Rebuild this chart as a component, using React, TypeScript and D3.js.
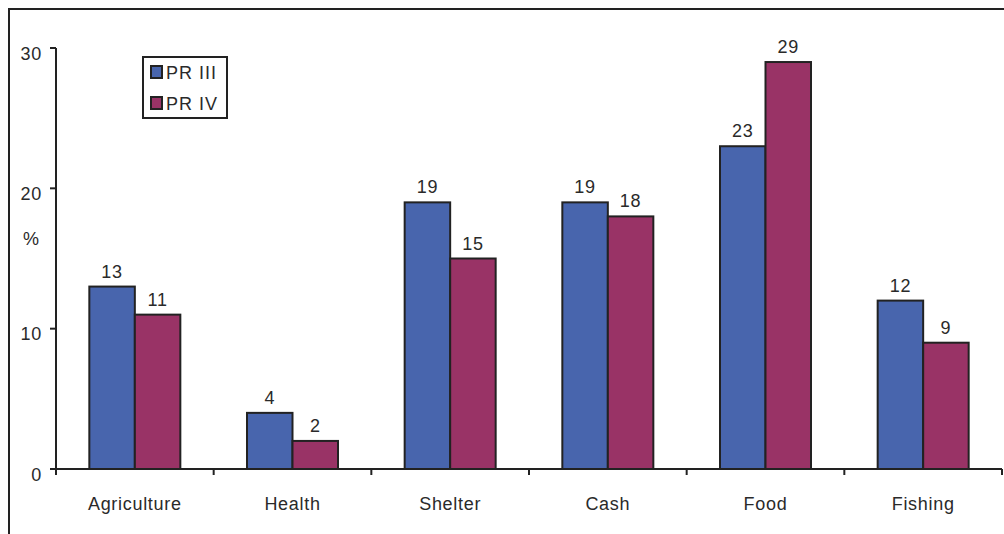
import { useEffect, useRef } from 'react';
import * as d3 from 'd3';

const categories = ['Agriculture', 'Health', 'Shelter', 'Cash', 'Food', 'Fishing'];
const seriesNames = ['PR III', 'PR IV'];
const prIII = [13, 4, 19, 19, 23, 12];
const prIV = [11, 2, 15, 18, 29, 9];
const yTicks = [0, 10, 20, 30];
const colors = ['#4865ad', '#993366'];

export default function App() {
  const svgRef = useRef<SVGSVGElement>(null);

  useEffect(() => {
    if (!svgRef.current) return;
    const svg = d3.select(svgRef.current);
    svg.selectAll('*').remove();

    const W = 1004;
    const H = 534;
    const font = 'Liberation Sans, Arial, sans-serif';
    const ink = '#2a2a2a';
    const fs = 18;
    const ls = 0.7;

    // outer frame (only top and left visible)
    svg.append('path')
      .attr('d', `M9,${H} V9 H${W}`)
      .attr('fill', 'none')
      .attr('stroke', '#222')
      .attr('stroke-width', 2);

    const x0 = d3.scaleBand<string>().domain(categories).range([56, 1002]).padding(0);
    const y = d3.scaleLinear().domain([0, 30]).range([469, 48]);
    const barW = 45.5;

    const g = svg.append('g');

    // bars
    const series = [prIII, prIV];
    series.forEach((vals, si) => {
      g.selectAll(`rect.s${si}`)
        .data(vals)
        .enter()
        .append('rect')
        .attr('x', (_, i) => x0(categories[i])! + x0.bandwidth() / 2 - barW + si * barW)
        .attr('y', d => y(d))
        .attr('width', barW)
        .attr('height', d => y(0) - y(d))
        .attr('fill', colors[si])
        .attr('stroke', '#222')
        .attr('stroke-width', 2);

      g.selectAll(`text.s${si}`)
        .data(vals)
        .enter()
        .append('text')
        .attr('x', (_, i) => x0(categories[i])! + x0.bandwidth() / 2 - barW / 2 + si * barW)
        .attr('y', d => y(d) - 9)
        .attr('text-anchor', 'middle')
        .attr('font-family', font)
        .attr('font-size', fs)
        .attr('letter-spacing', ls)
        .attr('fill', ink)
        .text(d => d);
    });

    // y axis
    g.append('line')
      .attr('x1', 56).attr('x2', 56)
      .attr('y1', y(30)).attr('y2', y(0))
      .attr('stroke', '#222').attr('stroke-width', 2);
    yTicks.forEach(t => {
      g.append('line')
        .attr('x1', 50).attr('x2', 56)
        .attr('y1', y(t)).attr('y2', y(t))
        .attr('stroke', '#222').attr('stroke-width', 2);
      g.append('text')
        .attr('x', 42)
        .attr('y', y(t) + 11.5)
        .attr('text-anchor', 'end')
        .attr('font-family', font)
        .attr('font-size', fs)
        .attr('letter-spacing', ls)
        .attr('fill', ink)
        .text(t);
    });

    // x axis
    g.append('line')
      .attr('x1', 56).attr('x2', 1002)
      .attr('y1', y(0)).attr('y2', y(0))
      .attr('stroke', '#222').attr('stroke-width', 2);
    const edges = categories.map(c => x0(c)!).concat([1002]);
    edges.forEach(ex => {
      g.append('line')
        .attr('x1', ex).attr('x2', ex)
        .attr('y1', y(0)).attr('y2', y(0) + 6)
        .attr('stroke', '#222').attr('stroke-width', 2);
    });
    categories.forEach(c => {
      g.append('text')
        .attr('x', x0(c)! + x0.bandwidth() / 2)
        .attr('y', 510)
        .attr('text-anchor', 'middle')
        .attr('font-family', font)
        .attr('font-size', fs)
        .attr('letter-spacing', ls)
        .attr('fill', ink)
        .text(c);
    });

    // y label
    g.append('text')
      .attr('x', 31)
      .attr('y', 245)
      .attr('text-anchor', 'middle')
      .attr('font-family', font)
      .attr('font-size', fs)
      .attr('fill', ink)
      .text('%');

    // legend
    const lg = svg.append('g');
    lg.append('rect')
      .attr('x', 143).attr('y', 57)
      .attr('width', 84).attr('height', 61)
      .attr('fill', '#fff')
      .attr('stroke', '#222').attr('stroke-width', 2);
    seriesNames.forEach((name, i) => {
      lg.append('rect')
        .attr('x', 151).attr('y', 66 + i * 31)
        .attr('width', 11).attr('height', 12)
        .attr('fill', colors[i])
        .attr('stroke', '#222').attr('stroke-width', 2);
      lg.append('text')
        .attr('x', 166)
        .attr('y', 79 + i * 31)
        .attr('font-family', font)
        .attr('font-size', fs)
        .attr('letter-spacing', 1)
        .attr('fill', ink)
        .text(name);
    });
  }, []);

  return (
    <svg
      ref={svgRef}
      width={1004}
      height={534}
      style={{ position: 'absolute', left: 0, top: 0, background: '#fff' }}
    />
  );
}
